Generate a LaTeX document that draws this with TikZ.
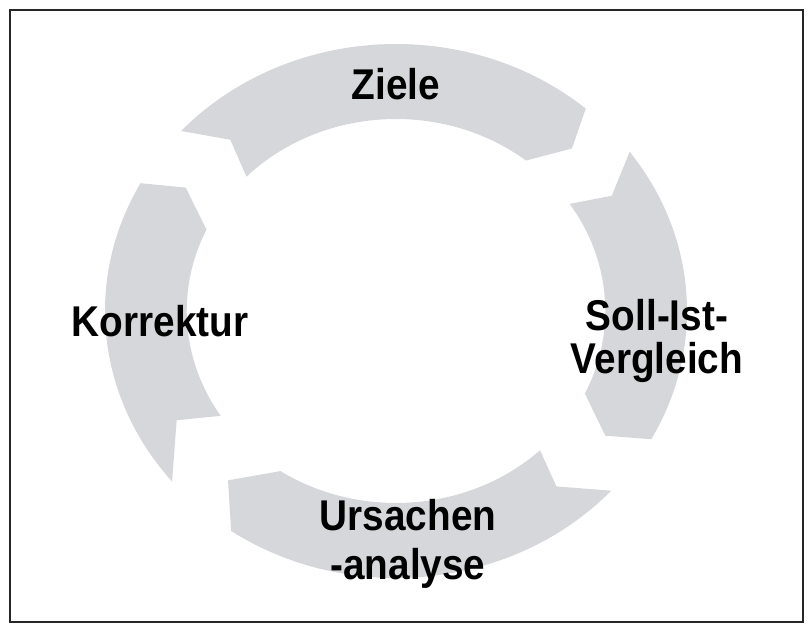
\documentclass[tikz,border=0pt]{standalone}
\usepackage{fontspec}
\newfontfamily\labfont{Liberation Sans}[FakeStretch=0.9]
\definecolor{ringgray}{RGB}{214,215,218}
\tikzset{
  seg/.style={fill=ringgray},
  lab/.style={font=\labfont\bfseries\fontsize{24.5}{24.5}\selectfont, align=center, inner sep=0pt},
  frame/.style={draw=black!85, line width=0.8pt}
}

\begin{document}
\begin{tikzpicture}[x=0.02cm, y=0.02cm]
  \useasboundingbox (0,0) rectangle (809,632);
  \draw[frame] (10,10) rectangle (803,622);

  % the four curved arrows, clockwise
  \begin{scope}[shift={(396,321)}, xscale=1.09]
    \fill[seg] (137.6:267) arc[start angle=137.6, end angle=49.3, radius=267]
      -- (45.2:229) -- (51.6:192) arc[start angle=51.6, end angle=135.6, radius=192]
      -- (131.6:229) -- cycle;
    \fill[seg] (36.6:267) arc[start angle=36.6, end angle=-28.7, radius=267]
      -- (-33:229) -- (-25.5:192) arc[start angle=-25.5, end angle=33.9, radius=192]
      -- (30.2:229) -- cycle;
    \fill[seg] (-42.3:267) arc[start angle=-42.3, end angle=-124.5, radius=267]
      -- (-132.3:229) -- (-123.5:192) arc[start angle=-123.5, end angle=-46.5, radius=192]
      -- (-50:229) -- cycle;
    \fill[seg] (219.7:267) arc[start angle=219.7, end angle=151.4, radius=267]
      -- (147.4:229) -- (154.9:192) arc[start angle=154.9, end angle=213.1, radius=192]
      -- (208.5:229) -- cycle;
  \end{scope}

  \node[lab, anchor=base] (Ziele) at (396,532) {Ziele};
  \node[lab] (Soll) at (657,291) {Soll-Ist-\\Vergleich};
  \node[lab] (Ursache) at (408,88) {Ursachen\\[3.5pt]-analyse};
  \node[lab, anchor=base] (Korrektur) at (160,295) {Korrektur};
\end{tikzpicture}
\end{document}
